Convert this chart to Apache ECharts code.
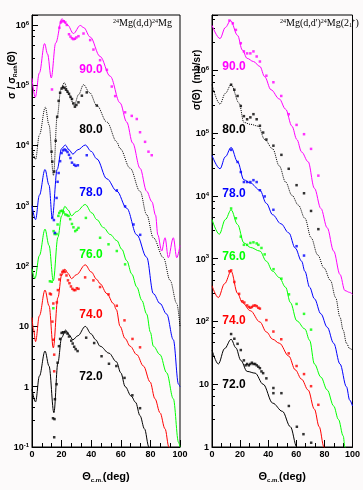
<!DOCTYPE html>
<html>
<head>
<meta charset="utf-8">
<script src="https://cdn.jsdelivr.net/npm/echarts@6/dist/echarts.min.js"></script>
<style>
html, body { margin: 0; padding: 0; background: #fcfafa; }
#c { width: 363px; height: 490px; }
</style>
</head>
<body>
<div id="c"></div>
<script>
// Beam energies (MeV), from bottom to top; each family is offset by a factor of 10.
const energies = ['72.0', '74.0', '76.0', '78.0', '80.0', '90.0'];

// ---- 24Mg(d,d)24Mg : elastic, ratio to Rutherford ----
// calculations: [theta_cm (deg), sigma/sigma_Ruth]
const elasticCalc72 = [[0,0.9],[2.4,0.56],[5,1.5],[8.8,3.9],[11.5,2.2],[14.8,0.37],[17.5,2.5],[20,6.5],[22.7,8.7],[25,7.3],[27.6,6.0],[31,7.0],[36,10],[40,7.5],[43,6.0],[46,4.7],[52,3.6],[57,2.6],[60,1.7],[63,1.0],[67,0.7],[70,0.55],[73,0.33],[76,0.2],[79,0.1],[80,0.085]];
const elasticCalc74 = [[0,14],[1,9],[2.4,5.6],[5,15],[8.8,40],[11.5,22],[14.4,4.4],[17.5,30],[20,70],[22.2,89],[24.5,75],[26.7,62],[30,72],[36,105],[40,80],[43.8,60],[46,51],[50.6,35],[55,24],[57,19],[59.5,10],[62.9,6.3],[66.3,4.7],[70.8,3.4],[75.3,2.2],[79.8,1.2],[83.1,0.63],[86.5,0.37],[89.9,0.2],[92.5,0.1],[93.5,0.085]];
const elasticCalc76 = [[0,90],[2,62],[5,150],[8.8,410],[11.5,220],[14.4,57],[17.5,300],[20,680],[22.2,980],[24.5,850],[26.7,680],[30,800],[36,1050],[40.5,760],[43.8,590],[48.3,435],[52.8,335],[57.3,265],[60.7,190],[64,123],[67.4,74],[70.8,45],[74.2,27],[77.5,16],[80,8],[82,4.7],[86.5,3.4],[91,1.7],[95.5,0.63],[99,0.12],[100,0.1]];
const elasticCalc78 = [[0,1000],[2.4,590],[5,1500],[8.8,4000],[11.5,2200],[13.7,630],[17,4000],[20,8900],[22.5,10200],[25,8500],[27.6,7200],[31,8500],[36,10200],[40,8000],[43.8,6000],[50.6,2800],[57.3,1750],[64,910],[70.8,330],[77.5,140],[82,35],[86.5,24],[91,16],[95.5,6],[99,1.1],[100,1.0]];
const elasticCalc80 = [[0,9000],[2.4,5900],[5,15000],[9,43000],[11.5,22000],[14.5,3200],[17,30000],[19.5,85000],[21.8,110000],[25,70000],[28.5,46000],[31.5,70000],[34.8,102000],[39,75000],[43.8,46000],[50.6,24500],[57.3,11500],[59.5,8900],[66.3,4200],[73,1740],[77.5,710],[82,295],[88.8,138],[93.3,58],[97.8,24],[100,10]];
const elasticCalc90 = [[0,130000],[2.2,63000],[5,160000],[8.5,490000],[10.5,330000],[13,132000],[16,500000],[20.2,1260000],[24,1000000],[28,720000],[32.6,980000],[35,900000],[39.3,630000],[46,300000],[52.8,141000],[59.5,51000],[64,24500],[68,11000],[73,4200],[77.5,1740],[81,1170],[83.5,700],[85,330],[87.6,178],[89.9,295],[92.1,138],[95.5,295],[97.8,138],[100,220]];

// measurements: [theta_cm (deg), sigma/sigma_Ruth]
const elasticData72 = [[14.2,0.3],[15.2,0.29],[15,0.145],[15.5,0.62],[16.6,1.1],[17.3,2.5],[18.2,4.7],[19,6.2],[20,7.8],[21,8.0],[22.5,8.0],[24,7.6],[25,6.8],[26.5,5.8],[27.5,5.2],[28.5,4.6],[29.5,4.2],[30.8,3.9],[36.6,6.5],[42,5.3],[47,3.2],[52,2.4],[57,2.2],[62.5,1.4],[67.8,0.72],[73,0.44]];
const elasticData74 = [[12.1,35],[12.8,34],[13.8,12],[14.4,24],[14.4,6],[15,3.4],[15,1.8],[16.8,25],[17.5,40],[18.5,60],[19.5,72],[20.5,80],[21.3,84],[22.3,80],[23.3,70],[24.3,58],[25.3,52],[26.3,46],[27.3,42],[28.3,40],[29.3,40],[30.3,43],[31.4,42],[35.9,65],[41.5,58],[46,45],[51.7,34],[57.3,22],[62.5,12.6],[67.9,6.2],[73,4.5]];
const elasticData76 = [[12.1,56],[13.4,55],[14.4,20],[14.6,380],[15.3,340],[16.6,340],[17.3,490],[17.8,680],[18.4,760],[19.3,815],[20.3,830],[21.3,780],[22.5,720],[23.6,700],[24.7,680],[25.8,600],[27,500],[28,440],[29.2,380],[30.3,400],[31.4,430],[36.4,630],[46,295],[51.7,230],[57.3,178],[62.9,107]];
const elasticData78 = [[13.7,630],[14.8,580],[15.5,355],[16.6,1350],[17.3,2500],[18,3500],[19,5500],[20,7500],[21,8300],[22,8600],[23,8300],[24,7800],[25,7000],[26,6200],[27,5200],[28.5,4800],[29.5,4600],[31,4700],[37,6900],[57.3,1800],[62.9,980],[68.6,490],[73.1,330]];
const elasticData80 = [[13.2,7900],[13.7,5400],[15,3700],[16,12000],[17,30000],[18,55000],[19,75000],[20,88000],[21,93000],[22,90000],[23,84000],[24,78000],[25,72000],[26,64000],[27,59000],[28,50000],[29,44000],[30,47000],[31.4,52000],[33.7,67000],[37,76000],[43.8,46000]];
const elasticData90 = [[13.5,85000],[18.5,900000],[19.5,1100000],[20.5,1150000],[21.5,1150000],[22.5,1100000],[23.5,1000000],[25,700000],[26,640000],[27,600000],[28,580000],[29,590000],[30,620000],[31.4,650000],[34.8,720000],[39.3,560000],[41.5,390000],[46,260000],[50.6,180000],[53.9,95000],[56.2,66000],[62.9,35500],[67.4,31000],[70.8,27500],[73,16600],[76.4,11500],[78.7,7900],[80.9,6900]];

// ---- 24Mg(d,d')24Mg(2+) : inelastic, mb/sr ----
const inelCalc72 = [[0,35],[4.5,21],[9,37],[13.6,52],[17,38],[20.5,24],[25,16],[30.7,15],[36.4,10],[43.2,5],[50.1,3.7],[55.8,2.1],[60.4,1.0],[62,0.8]];
const inelCalc74 = [[0,370],[4.5,240],[9,400],[13.6,630],[18.2,280],[21.6,200],[27.3,148],[34.1,98],[38.7,68],[43.2,52],[47.9,45],[54.7,28],[59.2,17],[63.8,12],[68.4,8.1],[72.9,4],[76.3,2.1],[79.7,1.0],[81,0.8]];
const inelCalc76 = [[0,4200],[5.2,2450],[9.5,4200],[13.6,6000],[18.2,3500],[22.7,1780],[27.3,1510],[34.1,1320],[38.7,910],[43.2,630],[47.9,500],[52.4,350],[55.8,200],[60.4,102],[66.1,76],[69.5,50],[72.9,21],[77.5,13],[82,8.1],[86.6,4.5],[90,2.75],[93.4,1.5],[94.6,1.0],[95.5,0.8]];
const inelCalc78 = [[0,44000],[5.7,27000],[9.5,42000],[13.6,59000],[18.2,35000],[22.7,18000],[27.3,16000],[34.1,12300],[38.7,7600],[43.2,5000],[49,3600],[54.7,2570],[59.2,1480],[63.8,910],[66.1,630],[69.5,350],[72.9,230],[77.5,132],[82,81],[86.6,45],[91.1,21],[95.7,9.1],[98,5.6],[100,4.5]];
const inelCalc80 = [[0,590000],[5.7,290000],[9.5,430000],[13.6,590000],[19.3,300000],[22.7,148000],[27.3,138000],[33,129000],[37.5,79000],[43.2,56000],[47.9,30000],[52.4,16600],[56.9,10200],[61.5,7100],[66.1,4400],[70.6,2140],[75.2,1150],[79.7,710],[84.3,450],[88,240],[91.1,117],[93.4,72],[95.7,45],[98,37],[100,35]];
const inelCalc90 = [[0,5200000],[5.7,3200000],[9.5,4800000],[13.2,6200000],[18.2,3600000],[21.6,2100000],[25,1550000],[29.5,1380000],[34.1,1150000],[37.5,790000],[42,490000],[47.9,350000],[52.4,240000],[56.9,129000],[60.4,79000],[63.8,50000],[68.4,35000],[72.9,13200],[77.5,6300],[82,3100],[86.6,1320],[91.1,560],[94.6,310],[98,290],[100,270]];

const inelData72 = [[13.6,63],[15.9,53],[18.2,44],[20.5,35],[22.7,24],[23.9,20],[25,21],[26.2,20],[27.3,21],[28.4,22],[29.5,21],[30.7,21],[31.8,20],[33,19],[34.1,18],[35.2,16],[36.4,15],[38.7,12.4],[43.7,8.7],[43.7,7.2],[49.4,7.2],[54.7,4.5],[60.4,2.1],[65.1,1.6],[70.6,1.17]];
const inelData74 = [[12.4,630],[13.6,650],[15.9,425],[19.3,275],[21.6,210],[23,200],[25,180],[26.2,170],[27.3,165],[28.4,170],[29.5,178],[30.7,180],[31.8,175],[33,165],[34.1,160],[38.7,105],[43.7,69],[49.3,52],[54.6,31],[60.2,19.5],[65.5,14.5],[70.5,9.3],[75.7,4.7]];
const inelData76 = [[13.6,6300],[17,4400],[20.5,2240],[22.7,1660],[25,1660],[27.3,1780],[29.5,1820],[31.8,1750],[33,1660],[35.2,1480],[37.5,1170],[43.8,680],[49.4,480],[54.8,270],[60.2,190],[65.5,132],[70.5,74]];
const inelData78 = [[13.6,54000],[18.2,34700],[20.5,24000],[22.7,16600],[25,16600],[27.3,16600],[29.5,17800],[31.8,16600],[34.1,12300],[37.5,9800],[43.7,6000],[60.2,1580],[65.5,1120]];
const inelData80 = [[13.6,590000],[15.9,490000],[18.2,390000],[20.5,270000],[22.7,186000],[25,166000],[27.3,178000],[29.5,200000],[31.8,166000],[34.1,131000],[36.4,102000],[38.7,79000],[43.7,63000],[49.4,45000],[54.6,27000],[60.2,14800],[65.5,11000],[70.5,5750],[75.7,2950]];
const inelData90 = [[12.4,6200000],[14.8,5600000],[17,4400000],[20.5,2700000],[22.7,2000000],[25,1860000],[27.3,1860000],[29.5,2000000],[31.8,1660000],[34.1,1380000],[38.7,820000],[43.7,645000],[49.3,390000],[54.6,200000],[60.2,135000],[65.5,96000],[70.5,56000],[75.7,21000]];

// ---- styling ----
const colours = ['#000000', '#ff0000', '#00ff00', '#0000ff', '#000000', '#ff00ff'];
const dashes  = ['solid', 'solid', 'solid', 'solid', 'dotted', 'solid'];
const SANS  = "'Liberation Sans Narrow', 'Liberation Sans', Arial, sans-serif";
const SERIF = "'Liberation Serif', 'Times New Roman', serif";

const elasticCalc = [elasticCalc72, elasticCalc74, elasticCalc76, elasticCalc78, elasticCalc80, elasticCalc90];
const elasticData = [elasticData72, elasticData74, elasticData76, elasticData78, elasticData80, elasticData90];
const inelCalc = [inelCalc72, inelCalc74, inelCalc76, inelCalc78, inelCalc80, inelCalc90];
const inelData = [inelData72, inelData74, inelData76, inelData78, inelData80, inelData90];

// pixel anchors of the energy tags in each panel
const tagX = [91, 234];
const tagY = [[376.7, 314.3, 255, 192.7, 130, 70], [385, 320.7, 256.7, 193.3, 129.3, 66.7]];

// powers of ten as 10^n
function powLabel(v) {
  const e = Math.log10(v);
  const r = Math.round(e);
  if (Math.abs(e - r) > 1e-6) return '';
  if (r === 0) return '{b|1}';
  if (r === 1) return '{b|10}';
  return '{b|10}{e|' + r + '}';
}

const tickRich = {
  b: { fontSize: 9, fontWeight: 'bold', fontFamily: SANS, color: '#000', lineHeight: 10, padding: [3, 0, 0, 0], verticalAlign: 'bottom' },
  e: { fontSize: 6, fontWeight: 'bold', fontFamily: SANS, color: '#000', verticalAlign: 'top' }
};

function xAxisCfg(gridIndex) {
  return {
    type: 'value', gridIndex: gridIndex, min: 0, max: 100, interval: 20,
    name: '{t|Θ}{c|c.m.}{t|(deg)}', nameLocation: 'middle', nameGap: 24,
    nameTextStyle: {
      rich: {
        t: { fontSize: 11, fontWeight: 'bold', fontFamily: SANS, color: '#000', lineHeight: 12, padding: [0, 0, 3, 0], verticalAlign: 'top' },
        c: { fontSize: 6, fontWeight: 'bold', fontFamily: SANS, color: '#000', verticalAlign: 'bottom' }
      }
    },
    axisLine: { show: true, onZero: false, lineStyle: { color: '#000', width: 1 } },
    axisTick: { show: true, inside: true, length: 7, lineStyle: { color: '#000' } },
    minorTick: { show: true, splitNumber: 3, length: 4, lineStyle: { color: '#000' } },
    splitLine: { show: false },
    axisLabel: { margin: 3, fontSize: 9, fontWeight: 'bold', fontFamily: SANS, color: '#000' }
  };
}

function yAxisCfg(gridIndex, min, max) {
  return {
    type: 'log', logBase: 10, gridIndex: gridIndex, min: min, max: max,
    axisLine: { show: true, lineStyle: { color: '#000', width: 1 } },
    axisTick: { show: true, inside: true, length: 6, lineStyle: { color: '#000' } },
    minorTick: { show: true, splitNumber: 5, length: 3, lineStyle: { color: '#000' } },
    splitLine: { show: false },
    axisLabel: { margin: 3, formatter: powLabel, rich: tickRich, showMaxLabel: false }
  };
}

const series = [];
function addPanel(calc, data, panel) {
  for (let i = 0; i < energies.length; i++) {
    series.push({
      type: 'line', name: energies[i] + (panel ? ' inel calc' : ' el calc'),
      xAxisIndex: panel, yAxisIndex: panel,
      data: calc[i], showSymbol: false, smooth: 0.35, smoothMonotone: 'x', clip: true,
      lineStyle: { color: colours[i], width: 1, type: dashes[i] },
      silent: true, z: 2
    });
    series.push({
      type: 'scatter', name: energies[i] + (panel ? ' inel data' : ' el data'),
      xAxisIndex: panel, yAxisIndex: panel,
      data: data[i], symbol: 'rect', symbolSize: 2.5, clip: true,
      itemStyle: { color: colours[i] }, silent: true, z: 3
    });
  }
}
addPanel(elasticCalc, elasticData, 0);
addPanel(inelCalc, inelData, 1);

const graphics = [];
for (let p = 0; p < 2; p++) {
  for (let i = 0; i < energies.length; i++) {
    graphics.push({
      type: 'text', x: tagX[p], y: tagY[p][i], z: 10,
      style: {
        text: energies[i], fill: colours[i], align: 'center', verticalAlign: 'middle',
        fontSize: 12, fontWeight: 'bold', fontFamily: SANS
      }
    });
  }
}
// rotated axis titles
graphics.push({
  type: 'text', x: 13, y: 75, rotation: Math.PI / 2, z: 10,
  style: {
    text: '{a|σ / σ}{s|Ruth}{a|(Θ)}', align: 'center', verticalAlign: 'middle',
    rich: {
      a: { fontSize: 10, fontWeight: 'bold', fontFamily: SANS, fill: '#000', lineHeight: 11, padding: [0, 0, 3, 0], verticalAlign: 'top' },
      s: { fontSize: 5, fontWeight: 'bold', fontFamily: SANS, fill: '#000', verticalAlign: 'bottom' }
    }
  }
});
graphics.push({
  type: 'text', x: 197, y: 80, rotation: Math.PI / 2, z: 10,
  style: {
    text: 'σ(Θ)  (mb/sr)', align: 'center', verticalAlign: 'middle',
    fontSize: 10, fontWeight: 'bold', fontFamily: SANS, fill: '#000'
  }
});

const titleRich = {
  m: { fontSize: 10, fontWeight: 'normal', fontFamily: SERIF, color: '#000', lineHeight: 10, padding: [3, 0, 3, 0] },
  s: { fontSize: 6, fontWeight: 'normal', fontFamily: SERIF, color: '#000', verticalAlign: 'top' },
  u: { fontSize: 6, fontWeight: 'normal', fontFamily: SERIF, color: '#000', verticalAlign: 'bottom' }
};

const option = {
  backgroundColor: '#fcfafa',
  animation: false,
  title: [
    { text: '{s|24}{m|Mg(d,d)}{s|24}{m|Mg}', left: 113, top: 18, padding: 0, textStyle: { fontWeight: 'normal', rich: titleRich } },
    { text: "{s|24}{m|Mg(d,d')}{s|24}{m|Mg(2}{u|1}{s|+}{m|)}", left: 280, top: 18, padding: 0, textStyle: { fontWeight: 'normal', rich: titleRich } }
  ],
  grid: [
    { left: 32, top: 15, width: 148, height: 436.7, show: true, borderColor: '#000', borderWidth: 1, backgroundColor: 'transparent' },
    { left: 212, top: 15, width: 146, height: 436, show: true, borderColor: '#000', borderWidth: 1, backgroundColor: 'transparent' }
  ],
  xAxis: [xAxisCfg(0), xAxisCfg(1)],
  yAxis: [yAxisCfg(0, 0.1, 1.46e6), yAxisCfg(1, 1, 7.6e6)],
  series: series,
  graphic: graphics
};

const chart = echarts.init(document.getElementById('c'), null, { renderer: 'canvas' });
chart.setOption(option);
</script>
</body>
</html>
